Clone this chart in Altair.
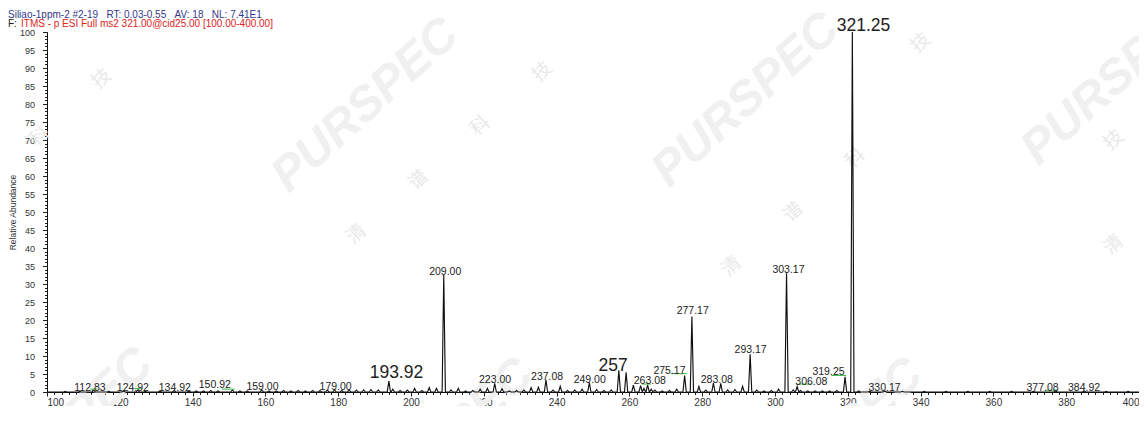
import altair as alt
import pandas as pd

# ---------------- data ----------------
peak_mz = [
    105.0, 109.0, 112.83, 117.0, 121.0, 124.92, 127.0, 131.0, 134.92, 139.0,
    141.0, 143.0, 145.0, 147.0, 150.92, 153.0, 155.0, 159.0, 161.0, 163.0,
    165.0, 167.0, 169.0, 171.0, 173.0, 175.0, 177.0, 179.0, 181.0, 183.0,
    185.0, 187.0, 189.0, 191.0, 193.92, 195.0, 197.0, 199.0, 201.0, 203.0,
    205.0, 207.0, 209.0, 211.0, 213.0, 215.0, 217.0, 219.0, 221.0, 223.0,
    225.0, 227.0, 229.0, 231.0, 233.0, 235.0, 237.08, 239.0, 241.0, 243.0,
    245.0, 247.0, 249.0, 251.0, 253.0, 255.0, 257.1, 259.1, 261.1, 263.08,
    264.0, 265.0, 266.0, 267.0, 269.0, 271.0, 273.0, 275.17, 277.17, 279.1,
    281.0, 283.08, 285.1, 287.0, 289.0, 291.1, 293.17, 295.0, 297.0, 299.0,
    301.0, 303.17, 305.0, 306.08, 307.0, 309.0, 311.0, 313.0, 315.0, 317.0,
    319.25, 321.25, 323.0, 326.0, 330.17, 335.0, 341.0, 347.0, 353.0, 359.0,
    365.0, 371.0, 377.08, 384.92, 391.0, 397.0,
]
peak_int = [
    0.2, 0.2, 0.5, 0.2, 0.3, 0.5, 0.2, 0.3, 0.4, 0.3,
    0.3, 0.3, 0.4, 0.3, 0.6, 0.3, 0.3, 0.5, 0.3, 0.3,
    0.4, 0.3, 0.4, 0.3, 0.4, 0.4, 0.5, 0.6, 0.4, 0.5,
    0.5, 0.6, 0.7, 0.6, 3.0, 0.8, 0.4, 0.5, 1.0, 0.4,
    1.2, 1.0, 32.5, 0.6, 1.0, 0.3, 0.4, 0.8, 1.0, 2.4,
    0.9, 0.3, 0.4, 0.5, 1.2, 1.3, 3.4, 0.5, 1.6, 0.4,
    0.5, 0.8, 2.6, 0.7, 0.4, 0.6, 6.0, 5.5, 1.9, 1.8,
    1.0, 2.0, 0.8, 0.5, 0.3, 0.4, 0.8, 4.6, 21.0, 1.5,
    0.5, 2.5, 2.4, 0.6, 0.7, 1.6, 10.5, 0.5, 0.3, 0.4,
    0.8, 33.0, 0.6, 1.5, 0.4, 0.3, 0.3, 0.3, 0.3, 0.4,
    4.2, 100.0, 0.3, 0.2, 0.3, 0.2, 0.2, 0.2, 0.2, 0.2,
    0.2, 0.2, 0.3, 0.3, 0.2, 0.2,
]

# peak annotations (text, anchor m/z, anchor abundance)
small_text = ["112.83", "124.92", "134.92", "150.92", "159.00", "179.00",
              "209.00", "223.00", "237.08", "249.00", "263.08", "275.17",
              "277.17", "283.08", "293.17", "303.17", "306.08", "319.25",
              "330.17", "377.08", "384.92"]
small_x = [111.8, 123.6, 135.1, 146.1, 159.2, 179.3,
           209.4, 223.1, 237.4, 249.1, 265.6, 271.0,
           277.4, 284.0, 293.3, 303.7, 310.0, 314.7,
           330.1, 373.5, 384.9]
small_y = [1.2, 1.2, 1.2, 2.0, 1.5, 1.5,
           33.4, 3.3, 4.2, 3.3, 3.1, 5.8,
           22.4, 3.3, 11.6, 34.0, 2.8, 5.5,
           1.2, 1.2, 1.2]

big_text = ["193.92", "257", "321.25"]
big_x = [196.0, 255.5, 324.3]
big_y = [5.3, 7.2, 101.8]

# green label leader lines
lead_x1 = [111.9, 124.1, 148.0, 263.4, 271.4, 306.3, 315.5, 374.2]
lead_x2 = [113.7, 126.0, 151.5, 265.9, 275.8, 310.0, 319.6, 377.8]
lead_y = [0.8, 1.0, 0.8, 2.2, 5.1, 2.2, 4.6, 0.5]

x_major = list(range(100, 401, 20))
x_minor = list(range(100, 401, 2))
y_major = list(range(0, 101, 5))
y_minor = list(range(0, 101, 1))

# watermark placement (m/z, abundance)
wm_logo_x = [187.5, 292.0, 393.5, 103.5, 208.0, 315.0]
wm_logo_y = [79.5, 81.0, 87.0, -12.0, -15.0, -15.0]
wm_char = ["技", "科", "清", "谱", "科", "技", "清", "谱", "科", "技", "清", "技"]
wm_char_x = [115.0, 98.0, 185.0, 202.0, 219.0, 236.0, 288.0, 305.0, 322.0, 340.0, 393.0, 393.0]
wm_char_y = [87.0, 71.0, 44.0, 59.0, 74.0, 89.0, 35.0, 50.0, 65.0, 97.0, 41.0, 70.0]

# ---------------- build tables ----------------
HW = 0.45
rows = [{"mz": 100.0, "ab": 0.0}]
for m, h in zip(peak_mz, peak_int):
    rows += [{"mz": m - HW, "ab": 0.0}, {"mz": m, "ab": h}, {"mz": m + HW, "ab": 0.0}]
rows.append({"mz": 400.0, "ab": 0.0})
spec = pd.DataFrame(rows).sort_values("mz").reset_index(drop=True)
spec["i"] = range(len(spec))

small_df = pd.DataFrame({"t": small_text, "x": small_x, "y": small_y})
big_df = pd.DataFrame({"t": big_text, "x": big_x, "y": big_y})
lead_df = pd.DataFrame({"x1": lead_x1, "x2": lead_x2, "y": lead_y})
wm_logo = pd.DataFrame({"x": wm_logo_x, "y": wm_logo_y, "t": ["PURSPEC"] * len(wm_logo_x)})
wm_chars = pd.DataFrame({"x": wm_char_x, "y": wm_char_y, "t": wm_char})

FONT = "Liberation Sans"
H = 360
xs = alt.Scale(domain=[100, 400], nice=False, zero=False)
ys = alt.Scale(domain=[0, 100], nice=False)

# watermarks
logo = alt.Chart(wm_logo).mark_text(
    font="Liberation Sans", fontSize=48, fontWeight="bold", fontStyle="italic",
    angle=318, color="#f0f0f0"
).encode(x=alt.X("x:Q", scale=xs, axis=None), y=alt.Y("y:Q", scale=ys, axis=None), text="t:N")
chars = alt.Chart(wm_chars).mark_text(
    font="Noto Sans CJK SC", fontSize=19, angle=318, color="#e9e9e9"
).encode(x=alt.X("x:Q", scale=xs, axis=None), y=alt.Y("y:Q", scale=ys, axis=None), text="t:N")

# minor tick axes (invisible data)
minor = alt.Chart(spec).mark_line(opacity=0).encode(
    x=alt.X("mz:Q", scale=xs, axis=alt.Axis(values=x_minor, labels=False, domain=False,
                                            tickSize=2.5, tickColor="#222", title=None,
                                            orient="bottom", grid=False)),
    y=alt.Y("ab:Q", scale=ys, axis=alt.Axis(values=y_minor, labels=False, domain=False,
                                            tickSize=2.5, tickColor="#222", title=None,
                                            orient="left", grid=False)),
)

line = alt.Chart(spec).mark_line(color="#111111", strokeWidth=1.15, interpolate="linear").encode(
    x=alt.X("mz:Q", scale=xs, axis=alt.Axis(
        values=x_major, title="m/z", orient="bottom", tickSize=4, tickColor="#222",
        domainColor="#111", labelFont=FONT, labelFontSize=10, labelColor="#333",
        labelPadding=1, titleFont=FONT, titleFontSize=10, titleFontWeight="normal",
        titleColor="#333", titlePadding=0, grid=False)),
    y=alt.Y("ab:Q", scale=ys, axis=alt.Axis(
        values=y_major, title="Relative Abundance", orient="left", tickSize=4.5,
        tickColor="#222", domainColor="#111", labelFont=FONT, labelFontSize=9,
        labelColor="#333", labelPadding=8,
        titleFont="Liberation Sans Narrow, Liberation Sans", titleFontSize=8.5,
        titleFontWeight="normal", titleColor="#333", titleX=-35, titleY=H / 2,
        titleBaseline="middle", titleAngle=270, grid=False)),
    order="i:Q",
)

leads = alt.Chart(lead_df).mark_rule(color="#3dbb3d", strokeWidth=1).encode(
    x=alt.X("x1:Q", scale=xs, axis=None), x2="x2:Q", y=alt.Y("y:Q", scale=ys, axis=None)
)

small_lab = alt.Chart(small_df).mark_text(
    font=FONT, fontSize=10.5, color="#222", baseline="middle", align="center"
).encode(x=alt.X("x:Q", scale=xs, axis=None), y=alt.Y("y:Q", scale=ys, axis=None), text="t:N")

big_lab = alt.Chart(big_df).mark_text(
    font=FONT, fontSize=17.5, color="#222", baseline="middle", align="center"
).encode(x=alt.X("x:Q", scale=xs, axis=None), y=alt.Y("y:Q", scale=ys, axis=None), text="t:N")

SP = "\u00a0\u00a0\u00a0"
title1 = alt.Chart(pd.DataFrame({"t": ["Siliao-1ppm-2 #2-19" + SP + "RT: 0.03-0.55" + SP + "AV: 18" + SP + "NL: 7.41E1"]})).mark_text(
    font=FONT, fontSize=10, color="#33398a", align="left", baseline="middle"
).encode(x=alt.value(-39), y=alt.value(-17.5), text="t:N")
title2a = alt.Chart(pd.DataFrame({"t": ["F:"]})).mark_text(
    font=FONT, fontSize=10, color="#222", align="left", baseline="middle"
).encode(x=alt.value(-39), y=alt.value(-8.5), text="t:N")
title2b = alt.Chart(pd.DataFrame({"t": ["ITMS - p ESI Full ms2 321.00@cid25.00 [100.00-400.00]"]})).mark_text(
    font=FONT, fontSize=10, color="#e0231c", align="left", baseline="middle"
).encode(x=alt.value(-26), y=alt.value(-8.5), text="t:N")

chart = alt.layer(
    logo, chars, minor, line, leads, small_lab, big_lab, title1, title2a, title2b
).resolve_axis(x="independent", y="independent").properties(
    width=1092, height=H,
    autosize=alt.AutoSizeParams(type="none"),
    padding={"left": 39, "top": 24, "right": 0, "bottom": 14},
    background="white",
).configure_view(stroke=None)

chart.save("out.html", embed_options={"renderer": "svg", "actions": False})
